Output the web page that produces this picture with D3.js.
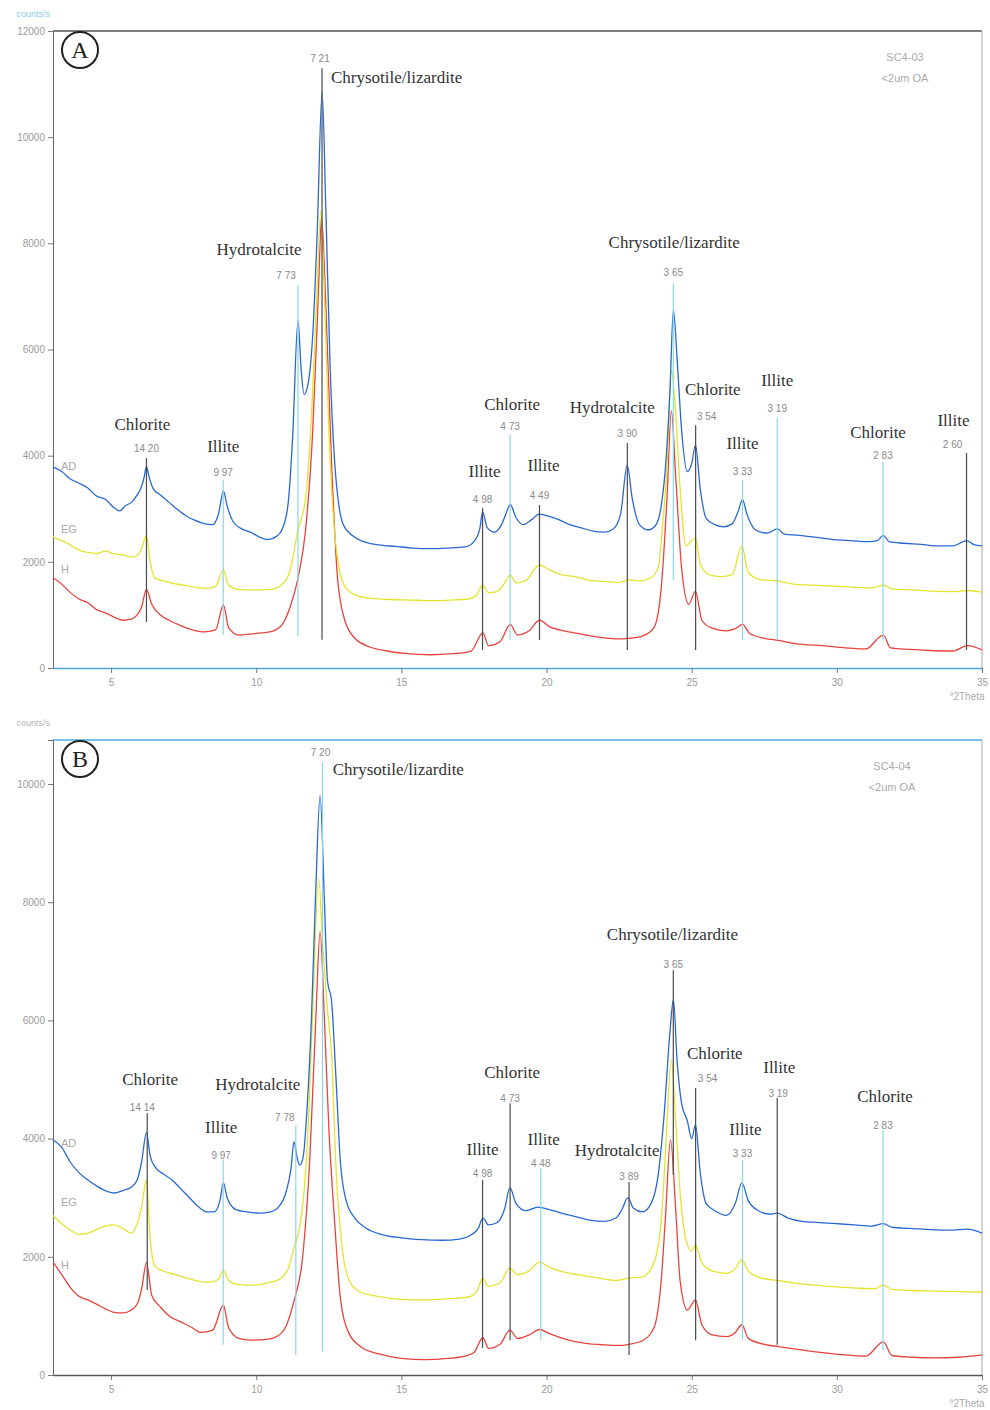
<!DOCTYPE html>
<html><head><meta charset="utf-8">
<script src="https://cdn.jsdelivr.net/npm/d3@7"></script>
<style>body{margin:0;background:#fff}</style>
</head><body><svg id="c" width="990" height="1410"></svg>
<script>
// ---------------- DATA ----------------
const xTicks = [5, 10, 15, 20, 25, 30, 35];
const yTicksA = [0, 2000, 4000, 6000, 8000, 10000, 12000];
const yTicksB = [0, 2000, 4000, 6000, 8000, 10000];
const seriesNames = ["AD", "EG", "H"];

// Panel A (SC4-03) — [°2θ, counts]
const AD_A = [[3.0,3790],[3.3,3700],[3.6,3560],[3.9,3480],[4.2,3390],[4.5,3240],[4.8,3180],[5.1,3020],[5.3,2960],[5.5,3060],[5.7,3120],[5.9,3260],[6.05,3420],[6.15,3620],[6.22,3800],[6.3,3620],[6.45,3380],[6.7,3260],[7.0,3120],[7.3,2980],[7.6,2860],[7.9,2780],[8.2,2720],[8.5,2700],[8.7,2900],[8.87,3330],[9.0,3050],[9.2,2760],[9.5,2620],[9.8,2560],[10.1,2470],[10.4,2420],[10.7,2480],[10.9,2620],[11.1,3100],[11.25,4300],[11.44,6550],[11.55,5600],[11.65,5150],[11.8,5400],[11.95,6300],[12.1,8200],[12.27,10850],[12.4,8600],[12.55,5600],[12.7,3900],[12.85,3050],[13.0,2700],[13.3,2500],[13.7,2380],[14.2,2320],[14.8,2290],[15.4,2260],[16.0,2250],[16.6,2260],[17.2,2280],[17.5,2380],[17.7,2620],[17.8,2940],[17.95,2650],[18.2,2560],[18.45,2700],[18.6,2900],[18.75,3080],[18.95,2830],[19.2,2700],[19.5,2800],[19.75,2900],[20.0,2870],[20.4,2800],[20.8,2700],[21.2,2640],[21.6,2580],[22.0,2560],[22.3,2620],[22.55,2900],[22.78,3820],[22.95,3200],[23.2,2700],[23.5,2600],[23.75,2680],[23.95,3050],[24.1,3800],[24.25,5200],[24.37,6750],[24.5,5800],[24.65,4500],[24.85,3700],[25.0,3850],[25.13,4200],[25.3,3350],[25.5,2820],[25.8,2700],[26.1,2660],[26.4,2720],[26.6,2950],[26.75,3170],[26.9,2900],[27.2,2600],[27.6,2540],[27.95,2620],[28.2,2520],[28.7,2500],[29.3,2460],[29.9,2420],[30.5,2400],[31.1,2380],[31.4,2400],[31.6,2500],[31.8,2380],[32.3,2350],[32.9,2330],[33.5,2300],[34.0,2300],[34.47,2400],[34.7,2330],[35.0,2300]];
const EG_A = [[3.0,2470],[3.3,2400],[3.6,2320],[3.9,2220],[4.2,2180],[4.5,2160],[4.8,2200],[5.1,2150],[5.4,2130],[5.7,2090],[5.9,2120],[6.05,2250],[6.22,2500],[6.35,2000],[6.5,1700],[6.8,1640],[7.1,1600],[7.5,1560],[7.9,1520],[8.3,1500],[8.6,1540],[8.87,1850],[9.05,1560],[9.4,1480],[9.8,1470],[10.2,1470],[10.6,1490],[10.9,1580],[11.15,1800],[11.44,2600],[11.7,3200],[11.9,4700],[12.1,7200],[12.22,8600],[12.35,7000],[12.5,4500],[12.65,2900],[12.85,1900],[13.1,1500],[13.5,1360],[14.0,1310],[14.6,1290],[15.3,1280],[16.0,1270],[16.7,1280],[17.3,1300],[17.6,1380],[17.8,1560],[18.0,1420],[18.3,1440],[18.55,1600],[18.75,1750],[18.95,1600],[19.3,1650],[19.75,1940],[20.1,1850],[20.5,1760],[21.0,1720],[21.5,1650],[22.0,1630],[22.5,1610],[22.84,1660],[23.2,1640],[23.6,1700],[23.85,1900],[24.0,2700],[24.15,3800],[24.3,5600],[24.45,4800],[24.6,3400],[24.8,2300],[25.0,2400],[25.13,2450],[25.3,1950],[25.6,1760],[26.0,1720],[26.4,1760],[26.73,2300],[26.95,1800],[27.4,1660],[27.95,1640],[28.5,1580],[29.2,1560],[30.0,1540],[30.6,1520],[31.2,1510],[31.6,1560],[31.9,1490],[32.6,1470],[33.3,1450],[34.0,1440],[34.5,1460],[35.0,1430]];
const H_A = [[3.0,1700],[3.3,1580],[3.6,1420],[3.9,1300],[4.2,1230],[4.5,1100],[4.8,1040],[5.1,960],[5.4,900],[5.7,920],[5.9,1000],[6.05,1150],[6.22,1480],[6.4,1200],[6.7,1000],[7.0,900],[7.4,800],[7.8,720],[8.2,680],[8.6,720],[8.87,1190],[9.05,760],[9.4,620],[9.8,640],[10.2,660],[10.6,700],[10.9,820],[11.2,1200],[11.44,1700],[11.7,2600],[11.95,4500],[12.15,7200],[12.25,8500],[12.4,6800],[12.6,3800],[12.8,1700],[13.05,900],[13.4,560],[13.9,400],[14.5,320],[15.2,270],[16.0,250],[16.8,270],[17.4,320],[17.81,660],[18.0,420],[18.4,500],[18.75,820],[19.0,620],[19.4,700],[19.76,900],[20.1,780],[20.6,700],[21.2,640],[21.8,580],[22.4,550],[22.84,560],[23.3,600],[23.7,760],[23.95,1500],[24.15,3200],[24.3,4850],[24.45,3600],[24.65,1900],[24.9,1200],[25.13,1450],[25.35,900],[25.7,750],[26.2,700],[26.5,740],[26.75,820],[27.0,650],[27.5,560],[28.0,520],[28.7,450],[29.5,420],[30.3,380],[31.0,360],[31.6,620],[31.85,380],[32.5,350],[33.2,330],[34.0,320],[34.5,420],[35.0,340]];

// Panel B (SC4-04)
const AD_B = [[3.0,3980],[3.3,3850],[3.6,3600],[3.9,3420],[4.2,3300],[4.5,3200],[4.8,3120],[5.1,3080],[5.4,3120],[5.7,3180],[5.9,3300],[6.05,3600],[6.22,4100],[6.35,3700],[6.55,3500],[6.8,3400],[7.1,3300],[7.4,3150],[7.7,3000],[8.0,2850],[8.3,2760],[8.55,2760],[8.75,2950],[8.87,3250],[9.0,3000],[9.3,2800],[9.7,2760],[10.1,2740],[10.5,2760],[10.8,2860],[11.0,3050],[11.2,3500],[11.3,3950],[11.4,3700],[11.5,3550],[11.62,3700],[11.75,4500],[11.9,6000],[12.05,8200],[12.2,9800],[12.35,8000],[12.45,6700],[12.6,6300],[12.75,5000],[12.9,3600],[13.1,2950],[13.4,2650],[13.8,2480],[14.3,2380],[15.0,2320],[15.7,2290],[16.4,2280],[17.0,2300],[17.4,2370],[17.65,2480],[17.81,2660],[18.0,2540],[18.3,2580],[18.55,2800],[18.74,3170],[18.95,2900],[19.3,2780],[19.7,2840],[20.1,2800],[20.5,2740],[21.0,2680],[21.5,2620],[22.0,2600],[22.4,2660],[22.6,2800],[22.8,3000],[23.0,2820],[23.3,2760],[23.6,2900],[23.85,3400],[24.05,4400],[24.25,5800],[24.37,6350],[24.5,5300],[24.65,4600],[24.85,4300],[25.0,4000],[25.13,4230],[25.3,3400],[25.5,2900],[25.8,2780],[26.2,2700],[26.5,2900],[26.73,3250],[26.95,2950],[27.3,2780],[27.7,2720],[27.95,2740],[28.3,2660],[28.8,2600],[29.4,2580],[30.0,2560],[30.6,2540],[31.2,2520],[31.6,2560],[31.9,2500],[32.5,2480],[33.2,2460],[33.9,2450],[34.5,2470],[35.0,2400]];
const EG_B = [[3.0,2700],[3.3,2560],[3.6,2450],[3.9,2380],[4.2,2400],[4.5,2460],[4.8,2520],[5.1,2540],[5.4,2480],[5.7,2400],[5.9,2560],[6.05,2840],[6.22,3300],[6.35,2300],[6.5,1850],[6.8,1760],[7.2,1700],[7.6,1640],[8.0,1590],[8.4,1570],[8.7,1620],[8.87,1780],[9.05,1600],[9.4,1530],[9.9,1520],[10.4,1560],[10.8,1620],[11.1,1800],[11.3,2150],[11.5,2500],[11.75,3800],[11.95,6200],[12.15,8400],[12.3,7200],[12.45,6200],[12.6,5400],[12.75,3500],[12.95,2200],[13.2,1600],[13.6,1400],[14.2,1330],[15.0,1280],[15.8,1270],[16.6,1290],[17.3,1320],[17.6,1420],[17.81,1640],[18.0,1500],[18.4,1560],[18.74,1810],[19.0,1700],[19.4,1760],[19.76,1910],[20.1,1820],[20.6,1740],[21.2,1690],[21.8,1640],[22.4,1600],[22.84,1640],[23.3,1660],[23.7,1900],[23.95,2600],[24.1,3800],[24.3,5330],[24.45,4300],[24.6,3100],[24.8,2300],[25.0,2100],[25.13,2200],[25.35,1900],[25.7,1760],[26.2,1720],[26.5,1800],[26.73,1950],[26.95,1760],[27.4,1640],[27.95,1600],[28.5,1560],[29.2,1520],[30.0,1490],[30.7,1470],[31.3,1460],[31.6,1520],[31.9,1450],[32.6,1430],[33.4,1420],[34.2,1410],[35.0,1400]];
const H_B = [[3.0,1910],[3.3,1700],[3.6,1480],[3.9,1330],[4.2,1270],[4.5,1200],[4.8,1120],[5.1,1060],[5.4,1050],[5.7,1100],[5.9,1200],[6.05,1450],[6.22,1900],[6.4,1350],[6.7,1150],[7.0,1000],[7.4,900],[7.8,800],[8.1,720],[8.5,760],[8.87,1180],[9.05,800],[9.4,620],[9.8,590],[10.3,600],[10.7,650],[11.0,800],[11.3,1250],[11.6,2000],[11.85,3700],[12.05,6000],[12.2,7500],[12.35,6000],[12.5,4200],[12.7,2600],[12.9,1300],[13.2,700],[13.6,480],[14.2,360],[15.0,280],[15.8,260],[16.6,280],[17.2,320],[17.5,380],[17.81,630],[18.0,450],[18.4,520],[18.74,760],[19.0,620],[19.4,680],[19.76,770],[20.1,700],[20.7,600],[21.3,540],[22.0,510],[22.5,500],[22.84,520],[23.3,580],[23.7,800],[23.95,1600],[24.1,2700],[24.27,3980],[24.45,2800],[24.6,1600],[24.85,1100],[25.13,1270],[25.35,850],[25.7,680],[26.2,650],[26.5,720],[26.73,850],[26.95,620],[27.5,520],[28.0,480],[28.7,430],[29.5,380],[30.3,340],[31.0,320],[31.6,560],[31.9,330],[32.6,300],[33.4,290],[34.2,300],[35.0,340]];

// Peak annotations: mineral, d-spacing (Å), line top/bottom (counts), name/d label heights (counts), label shifts (°2θ)
const peaksA = [
  {mineral:"Chlorite", d:"14.20", top:3955, bottom:866, nameAt:4480, dAt:4070, nameDx:-0.14, dDx:0, tone:"dark"},
  {mineral:"Illite", d:"9.97", top:3540, bottom:620, nameAt:4070, dAt:3615, nameDx:0, dDx:0, tone:"cyan"},
  {mineral:"Hydrotalcite", d:"7.73", top:7210, bottom:600, nameAt:7780, dAt:7325, nameDx:-1.34, dDx:-0.41, tone:"cyan"},
  {mineral:"Chrysotile/lizardite", d:"7.21", top:11300, bottom:530, nameAt:11020, dAt:11410, nameDx:0.31, dDx:-0.07, tone:"dark", anchor:"start"},
  {mineral:"Illite", d:"4.98", top:3010, bottom:340, nameAt:3600, dAt:3110, nameDx:0.07, dDx:0, tone:"dark"},
  {mineral:"Chlorite", d:"4.73", top:4390, bottom:530, nameAt:4860, dAt:4480, nameDx:0.07, dDx:0, tone:"cyan"},
  {mineral:"Illite", d:"4.49", top:3070, bottom:530, nameAt:3710, dAt:3180, nameDx:0.14, dDx:0, tone:"dark"},
  {mineral:"Hydrotalcite", d:"3.90", top:4240, bottom:340, nameAt:4800, dAt:4350, nameDx:-0.52, dDx:0, tone:"dark"},
  {mineral:"Chrysotile/lizardite", d:"3.65", top:7250, bottom:1660, nameAt:7910, dAt:7380, nameDx:0.03, dDx:0, tone:"cyan"},
  {mineral:"Chlorite", d:"3.54", top:4575, bottom:340, nameAt:5140, dAt:4670, nameDx:0.59, dDx:0.38, tone:"dark"},
  {mineral:"Illite", d:"3.33", top:3540, bottom:530, nameAt:4125, dAt:3635, nameDx:0, dDx:0, tone:"cyan"},
  {mineral:"Illite", d:"3.19", top:4710, bottom:530, nameAt:5310, dAt:4820, nameDx:0, dDx:0, tone:"cyan"},
  {mineral:"Chlorite", d:"2.83", top:3880, bottom:530, nameAt:4330, dAt:3935, nameDx:-0.17, dDx:0, tone:"cyan"},
  {mineral:"Illite", d:"2.60", top:4050, bottom:340, nameAt:4560, dAt:4145, nameDx:-0.45, dDx:-0.48, tone:"dark"}
];
const peaksB = [
  {mineral:"Chlorite", d:"14.14", top:4435, bottom:1440, nameAt:4905, dAt:4470, nameDx:0.1, dDx:-0.17, tone:"dark"},
  {mineral:"Illite", d:"9.97", top:3640, bottom:510, nameAt:4095, dAt:3655, nameDx:-0.07, dDx:-0.07, tone:"cyan"},
  {mineral:"Hydrotalcite", d:"7.78", top:4230, bottom:340, nameAt:4820, dAt:4300, nameDx:-1.31, dDx:-0.38, tone:"cyan"},
  {mineral:"Chrysotile/lizardite", d:"7.20", top:10370, bottom:400, nameAt:10150, dAt:10470, nameDx:0.35, dDx:-0.07, tone:"cyan", anchor:"start"},
  {mineral:"Illite", d:"4.98", top:3300, bottom:457, nameAt:3720, dAt:3350, nameDx:0, dDx:0, tone:"dark"},
  {mineral:"Chlorite", d:"4.73", top:4600, bottom:590, nameAt:5025, dAt:4620, nameDx:0.07, dDx:0, tone:"dark"},
  {mineral:"Illite", d:"4.48", top:3500, bottom:590, nameAt:3890, dAt:3520, nameDx:0.1, dDx:0, tone:"cyan"},
  {mineral:"Hydrotalcite", d:"3.89", top:3265, bottom:340, nameAt:3705, dAt:3300, nameDx:-0.41, dDx:0, tone:"dark"},
  {mineral:"Chrysotile/lizardite", d:"3.65", top:6850, bottom:3385, nameAt:7360, dAt:6890, nameDx:-0.03, dDx:0, tone:"dark"},
  {mineral:"Chlorite", d:"3.54", top:4855, bottom:590, nameAt:5345, dAt:4960, nameDx:0.66, dDx:0.41, tone:"dark"},
  {mineral:"Illite", d:"3.33", top:3640, bottom:590, nameAt:4060, dAt:3690, nameDx:0.1, dDx:0, tone:"cyan"},
  {mineral:"Illite", d:"3.19", top:4690, bottom:510, nameAt:5110, dAt:4700, nameDx:0.07, dDx:0.03, tone:"dark"},
  {mineral:"Chlorite", d:"2.83", top:4145, bottom:425, nameAt:4620, dAt:4160, nameDx:0.07, dDx:0, tone:"cyan"}
];

// ---------------- DRAWING ----------------
const LAMBDA = 1.5406; // Cu Kα, Å
const twoTheta = d => 2 * Math.asin(LAMBDA / (2 * d)) * 180 / Math.PI;

const svg = d3.select("#c");
const xL = 53, xR = 982;
const x = d3.scaleLinear().domain([3, 35]).range([xL, xR]);
const colors = {AD:"#2a68d4", EG:"#e4e430", H:"#e8433c"};
const tone = {dark:"#4a4a4a", cyan:"#8cd6e6"};
const serif = "'Liberation Serif','DejaVu Serif',serif";
const sans = "'Liberation Sans','DejaVu Sans',sans-serif";

const panels = [
  {letter:"A", top:31, bottom:668, yMax:12000, yTicks:yTicksA, series:[AD_A, EG_A, H_A], peaks:peaksA,
   sample:"SC4-03", topColor:"#555", bottomColor:"#4ea8dc", labelDy:[3,-4,-5]},
  {letter:"B", top:740, bottom:1375, yMax:10745, yTicks:yTicksB, series:[AD_B, EG_B, H_B], peaks:peaksB,
   sample:"SC4-04", topColor:"#4ea8dc", bottomColor:"#555", labelDy:[7,-9,7]}
];

panels.forEach(p => {
  const y = d3.scaleLinear().domain([0, p.yMax]).range([p.bottom, p.top]);
  const g = svg.append("g");

  // frame
  g.append("line").attr("x1", xL).attr("x2", xR).attr("y1", p.top).attr("y2", p.top)
    .attr("stroke", p.topColor).attr("stroke-width", 1.3);
  g.append("line").attr("x1", xR).attr("x2", xR).attr("y1", p.top).attr("y2", p.bottom)
    .attr("stroke", "#aaa").attr("stroke-width", 1);

  // y axis
  const yMinor = d3.range(0, p.yMax, 400);
  const ya = g.append("g").attr("transform", `translate(${xL},0)`);
  ya.call(d3.axisLeft(y).tickValues(yMinor).tickSize(3).tickFormat(""));
  ya.call(d3.axisLeft(y).tickValues(p.yTicks).tickSize(5).tickFormat(d3.format("d")));
  ya.select(".domain").attr("stroke", "#666");
  ya.selectAll(".tick line").attr("stroke", "#777");
  ya.selectAll("text").attr("fill", "#9a9a9a").style("font-family", sans).style("font-size", "10px");

  // x axis
  const xa = g.append("g").attr("transform", `translate(0,${p.bottom})`);
  xa.call(d3.axisBottom(x).tickValues(d3.range(4, 35, 1)).tickSize(3).tickSizeOuter(0).tickFormat(""));
  xa.call(d3.axisBottom(x).tickValues(xTicks).tickSize(5).tickSizeOuter(0).tickPadding(6).tickFormat(d3.format("d")));
  xa.select(".domain").attr("stroke", p.bottomColor).attr("stroke-width", 1.3);
  xa.selectAll(".tick line").attr("stroke", "#777");
  xa.selectAll("text").attr("fill", "#9a9a9a").style("font-family", sans).style("font-size", "10px");

  g.append("text").attr("x", 967).attr("y", p.bottom + 32).attr("text-anchor", "middle")
    .attr("fill", "#aaa").style("font-family", sans).style("font-size", "10px").text("°2Theta");
  g.append("text").attr("x", 50).attr("y", p.top - 14).attr("text-anchor", "end")
    .attr("fill", p.letter === "A" ? "#8cc8e6" : "#b5b5b5").style("font-family", sans).style("font-size", "9px").text("counts/s");

  // curves (H first, AD on top)
  const line = d3.line().x(d => x(d[0])).y(d => y(d[1])).curve(d3.curveMonotoneX);
  [2, 1, 0].forEach(i => {
    g.append("path").datum(p.series[i]).attr("d", line).attr("fill", "none")
      .attr("stroke", colors[seriesNames[i]]).attr("stroke-width", 1.3).attr("stroke-linejoin", "round");
  });
  seriesNames.forEach((n, i) => {
    g.append("text").attr("x", x(3) + 8).attr("y", y(p.series[i][0][1]) + p.labelDy[i])
      .attr("fill", "#a8a8a8").style("font-family", sans).style("font-size", "11px").text(n);
  });

  // peak markers
  p.peaks.forEach(pk => {
    const t = twoTheta(+pk.d);
    g.append("line").attr("x1", x(t)).attr("x2", x(t)).attr("y1", y(pk.top)).attr("y2", y(pk.bottom))
      .attr("stroke", tone[pk.tone]).attr("stroke-width", 1.2);
    g.append("text").attr("x", x(t + pk.nameDx)).attr("y", y(pk.nameAt))
      .attr("text-anchor", pk.anchor || "middle").attr("fill", "#333")
      .style("font-family", serif).style("font-size", "17px").text(pk.mineral);
    g.append("text").attr("x", x(t + pk.dDx)).attr("y", y(pk.dAt))
      .attr("text-anchor", "middle").attr("fill", "#8a8a8a")
      .style("font-family", sans).style("font-size", "10px").text(pk.d.replace(".", " "));
  });

  // panel letter
  const cy = p.top + 19;
  g.append("circle").attr("cx", 80).attr("cy", cy).attr("r", 18).attr("fill", "#fff")
    .attr("stroke", "#222").attr("stroke-width", 2);
  g.append("text").attr("x", 80).attr("y", cy + 8).attr("text-anchor", "middle").attr("fill", "#222")
    .style("font-family", serif).style("font-size", "24px").text(p.letter);

  // sample info
  const sx = p.letter === "A" ? 905 : 892;
  g.append("text").attr("x", sx).attr("y", p.top + 30).attr("text-anchor", "middle").attr("fill", "#aaa")
    .style("font-family", sans).style("font-size", "11px").text(p.sample);
  g.append("text").attr("x", sx).attr("y", p.top + 51).attr("text-anchor", "middle").attr("fill", "#aaa")
    .style("font-family", sans).style("font-size", "11px").text("<2um OA");
});
</script></body></html>
